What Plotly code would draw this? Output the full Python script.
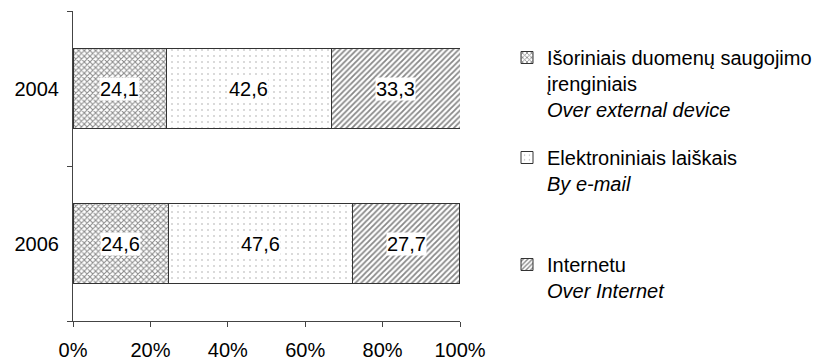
import plotly.graph_objects as go

years = ["2004", "2006"]
series_names = [
    "Išoriniais duomenų saugojimo<br>įrenginiais<br><i>Over external device</i>",
    "Elektroniniais laiškais<br><i>By e-mail</i>",
    "Internetu<br><i>Over Internet</i>",
]
external = [24.1, 24.6]
email = [42.6, 47.6]
internet = [33.3, 27.7]
x_ticks = [0, 20, 40, 60, 80, 100]
x_tick_labels = ["0%", "20%", "40%", "60%", "80%", "100%"]

series_values = [external, email, internet]
patterns = [
    dict(shape="x", size=4, solidity=0.45, fgcolor="#111", bgcolor="white"),
    dict(shape=".", size=6, solidity=0.06, fgcolor="#555", bgcolor="white"),
    dict(shape="/", size=4, solidity=0.45, fgcolor="#111", bgcolor="white"),
]
legend_ids = ["legend", "legend2", "legend3"]
cat_order = years[::-1]  # bottom-to-top order on the category axis

FONT = "Liberation Sans, Arial, sans-serif"
FS = 20
fig = go.Figure()
for name, vals, pat, lg in zip(series_names, series_values, patterns, legend_ids):
    fig.add_trace(go.Bar(
        y=years, x=vals, name=name, orientation="h",
        marker=dict(color="white", pattern=pat, line=dict(color="#333", width=1)),
        width=0.52, legend=lg,
    ))

# data labels with white boxes, centred in each segment
for i, yr in enumerate(years):
    cum = 0.0
    for vals in series_values:
        v = vals[i]
        fig.add_annotation(
            x=cum + v / 2, y=cat_order.index(yr), xref="x", yref="y",
            text=f"{v:.1f}".replace(".", ","), showarrow=False,
            bgcolor="white", borderpad=0,
            font=dict(family=FONT, size=FS, color="black"),
        )
        cum += v

def px_x(p):
    return (p - 73) / 387

def px_y(p):
    return (321 - p) / 310

legend_common = dict(
    xanchor="left", yanchor="top", valign="top",
    font=dict(family=FONT, size=FS, color="black"),
    bgcolor="rgba(0,0,0,0)", borderwidth=0, itemwidth=30,
    itemclick=False, itemdoubleclick=False,
)

fig.update_layout(
    width=840, height=360,
    margin=dict(l=73, r=380, t=11, b=39, autoexpand=False),
    plot_bgcolor="white", paper_bgcolor="white",
    barmode="stack", bargap=0.48,
    font=dict(family=FONT, size=FS, color="black"),
    showlegend=True,
    legend=dict(x=px_x(507), y=px_y(38), **legend_common),
    legend2=dict(x=px_x(507), y=px_y(138), **legend_common),
    legend3=dict(x=px_x(507), y=px_y(245), **legend_common),
    xaxis=dict(
        range=[0, 100], tickvals=x_ticks, ticktext=x_tick_labels,
        showgrid=False, zeroline=False, showline=True, linecolor="#444", linewidth=1,
        ticks="outside", ticklen=5, tickcolor="#444", ticklabelstandoff=6,
        automargin=False, fixedrange=True,
    ),
    yaxis=dict(
        type="category", categoryorder="array", categoryarray=cat_order,
        range=[-0.5, 1.5],
        showgrid=False, zeroline=False, showline=True, linecolor="#444", linewidth=1,
        ticks="outside", ticklen=5, tickcolor="#444", tickson="boundaries",
        ticklabelstandoff=9, automargin=False, fixedrange=True,
    ),
)

fig.write_html("out.html", config={"displayModeBar": False},
               post_script="document.body.style.margin='0';")
